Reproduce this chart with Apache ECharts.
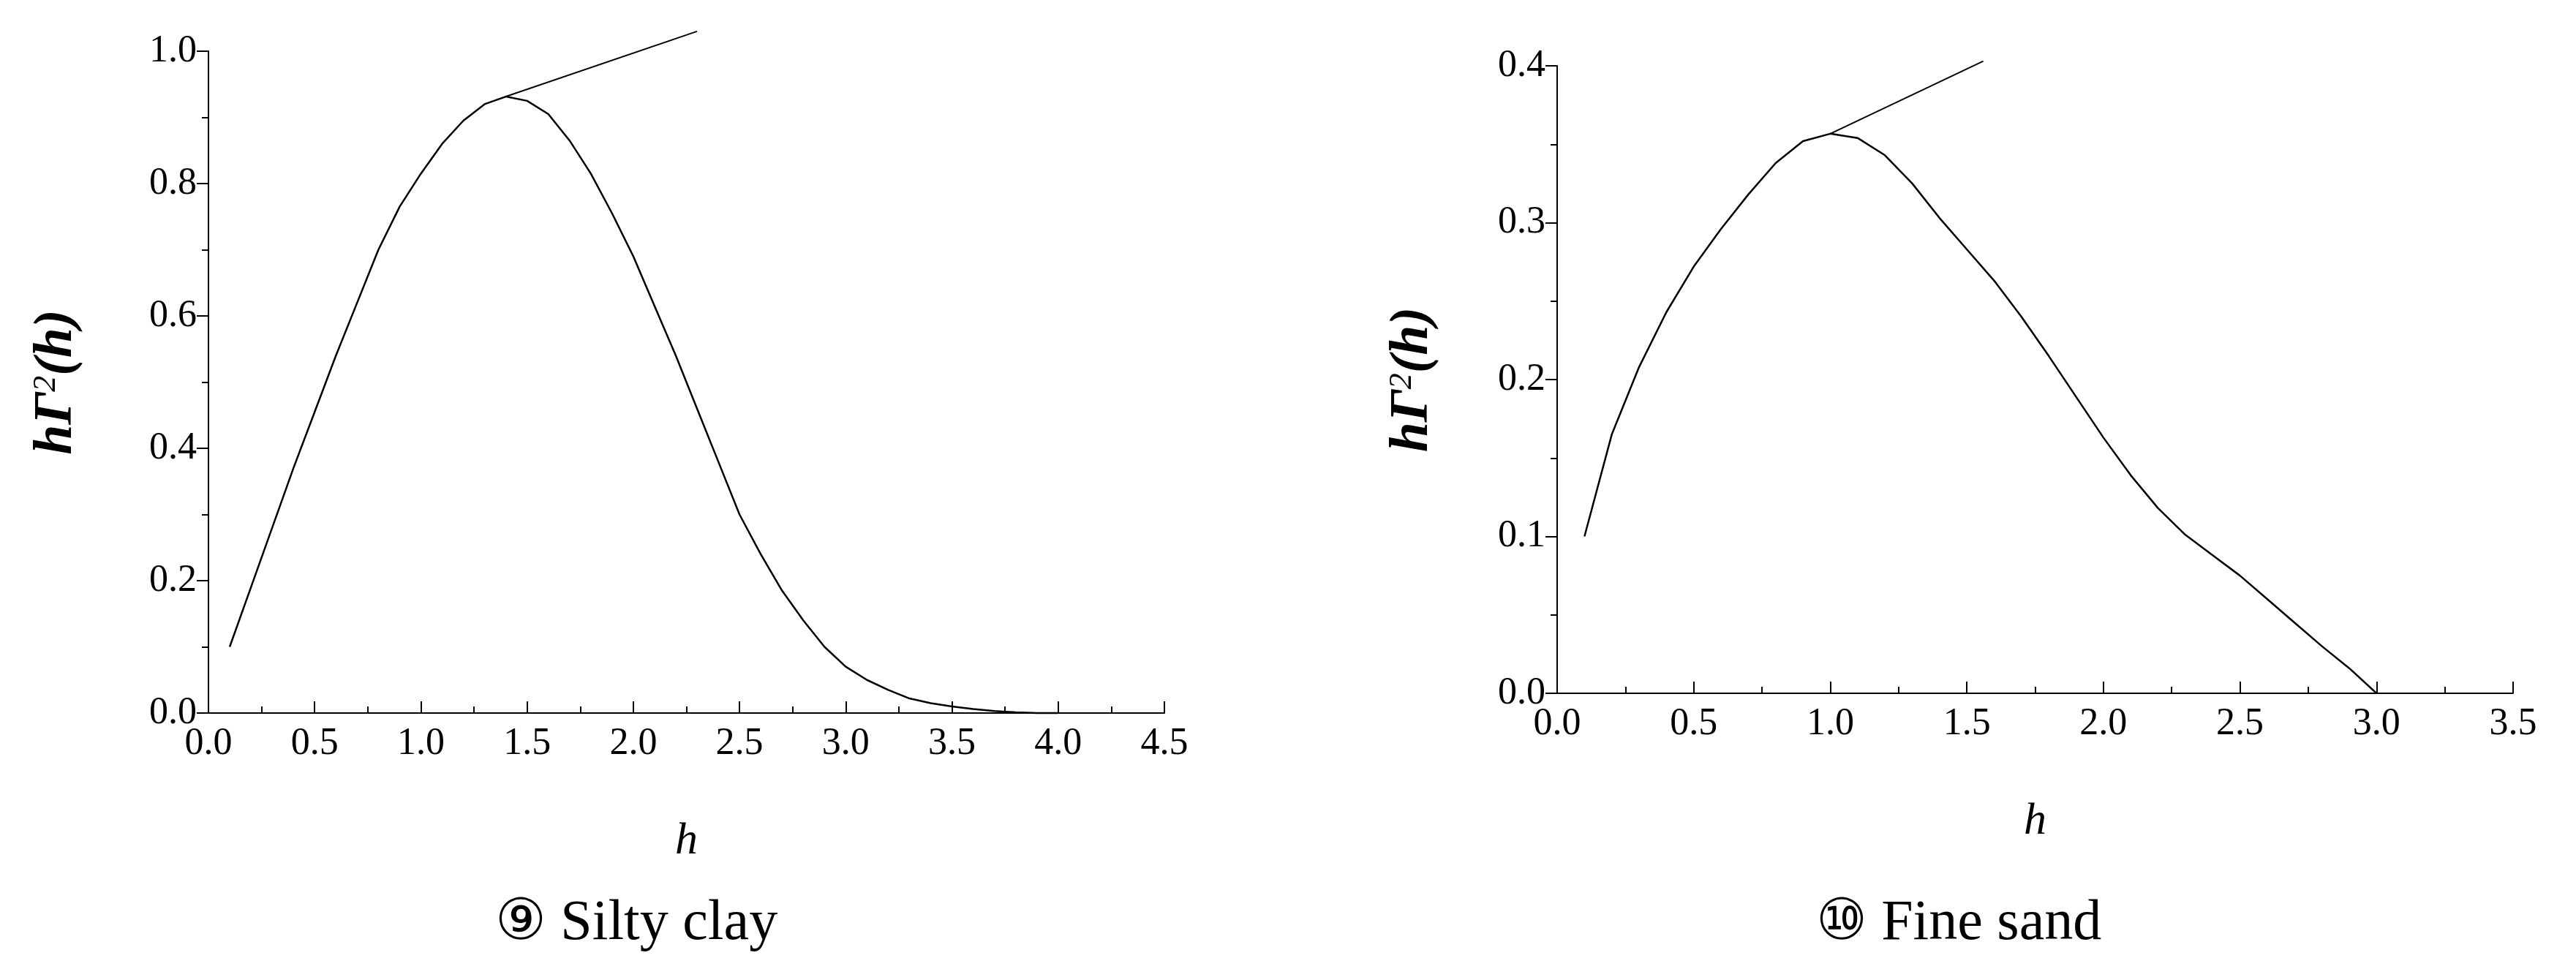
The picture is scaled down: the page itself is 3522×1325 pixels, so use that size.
<!DOCTYPE html>
<html><head><meta charset="utf-8">
<script src="https://cdn.jsdelivr.net/npm/echarts@6/dist/echarts.min.js"></script>
<style>html,body{margin:0;padding:0;background:#fff}#c{width:3522px;height:1325px}</style>
</head><body><div id="c"></div>
<script>
const hLeft = [0.1,0.2,0.3,0.4,0.5,0.6,0.7,0.8,0.9,1.0,1.1,1.2,1.3,1.4,1.5,1.6,1.7,1.8,1.9,2.0,2.1,2.2,2.3,2.4,2.5,2.6,2.7,2.8,2.9,3.0,3.1,3.2,3.3,3.4,3.5,3.6,3.7,3.8,3.9,4.0];
const vLeft = [0.1,0.19,0.28,0.37,0.455,0.54,0.62,0.7,0.765,0.815,0.86,0.895,0.92,0.93143,0.925,0.905,0.865,0.815,0.755,0.69,0.615,0.54,0.46,0.38,0.3,0.24,0.185,0.14,0.1,0.07,0.05,0.035,0.022,0.015,0.01,0.006,0.003,0.001,0,0];
const hRight = [0.1,0.2,0.3,0.4,0.5,0.6,0.7,0.8,0.9,1.0,1.1,1.2,1.3,1.4,1.5,1.6,1.7,1.8,1.9,2.0,2.1,2.2,2.3,2.4,2.5,2.6,2.7,2.8,2.9,3.0];
const vRight = [0.1,0.165,0.208,0.243,0.272,0.296,0.318,0.338,0.352,0.35671,0.354,0.343,0.325,0.303,0.283,0.263,0.24,0.215,0.189,0.163,0.139,0.118,0.101,0.088,0.075,0.06,0.045,0.03,0.016,0];
const peakLeft = [1.4,0.93143], labelLeft = [2.3,1.03];
const peakRight = [1,0.35671], labelRight = [1.56,0.403];

const F = 'Liberation Serif';
function xAx(gi,max){return {type:'value',gridIndex:gi,min:0,max:max,interval:0.5,
  axisLine:{lineStyle:{color:'#000',width:2}},axisTick:{inside:true,length:16,lineStyle:{color:'#000',width:2}},
  minorTick:{show:true,splitNumber:2,length:9,lineStyle:{color:'#000',width:2}},
  axisLabel:{color:'#000',fontFamily:F,fontSize:52,margin:16,formatter:v=>v.toFixed(1)},splitLine:{show:false},
  name:'h',nameLocation:'middle',nameGap:145,nameTextStyle:{fontFamily:F,fontStyle:'italic',fontSize:62,color:'#000'}};}
function yAx(gi,max,intv){return {type:'value',gridIndex:gi,min:0,max:max,interval:intv,
  axisLine:{show:true,lineStyle:{color:'#000',width:2}},axisTick:{inside:false,length:16,lineStyle:{color:'#000',width:2}},
  minorTick:{show:true,splitNumber:2,length:9,lineStyle:{color:'#000',width:2}},
  axisLabel:{color:'#000',fontFamily:F,fontSize:52,margin:16,formatter:v=>v.toFixed(1)},splitLine:{show:false},
  name:'{a|hΓ}{s|2}{a|(h)}',nameLocation:'middle',nameGap:gi===0?170:160,nameRotate:90,
  nameTextStyle:{rich:{a:{fontFamily:F,fontStyle:'italic',fontWeight:'bold',fontSize:74,color:'#000'},
    s:{fontFamily:F,fontStyle:'italic',fontSize:44,color:'#000',verticalAlign:'top',padding:[0,0,26,0]}}}};}
function leader(gi,peak,lab){return {type:'line',xAxisIndex:gi,yAxisIndex:gi,clip:false,silent:true,
  showSymbol:true,symbol:'none',lineStyle:{color:'#000',width:2},
  data:[{value:peak},{value:lab,label:{show:true,position:'right',distance:2,formatter:'('+peak[0]+', '+peak[1]+')',
    fontFamily:F,fontSize:52,color:'#000'}}]};}
const chart = echarts.init(document.getElementById('c'));
chart.setOption({
  backgroundColor:'#fff',animation:false,
  grid:[{left:285,top:70,width:1307,height:905},{left:2129,top:90,width:1307,height:858}],
  xAxis:[xAx(0,4.5),xAx(1,3.5)],
  yAxis:[yAx(0,1.0,0.2),yAx(1,0.4,0.1)],
  series:[
    {type:'line',xAxisIndex:0,yAxisIndex:0,data:hLeft.map((h,i)=>[h,vLeft[i]]),showSymbol:false,clip:false,
     lineStyle:{color:'#000',width:2.5}},
    {type:'line',xAxisIndex:1,yAxisIndex:1,data:hRight.map((h,i)=>[h,vRight[i]]),showSymbol:false,clip:false,
     lineStyle:{color:'#000',width:2.5}},
    leader(0,peakLeft,labelLeft),
    leader(1,peakRight,labelRight)
  ],
  title:[
    {text:'⑨ Silty clay',left:865,top:1220,textAlign:'center',textStyle:{fontFamily:F,fontSize:78,fontWeight:'normal',color:'#000'}},
    {text:'⑩ Fine sand',left:2673,top:1220,textAlign:'center',textStyle:{fontFamily:F,fontSize:78,fontWeight:'normal',color:'#000'}}
  ]
});
</script></body></html>
